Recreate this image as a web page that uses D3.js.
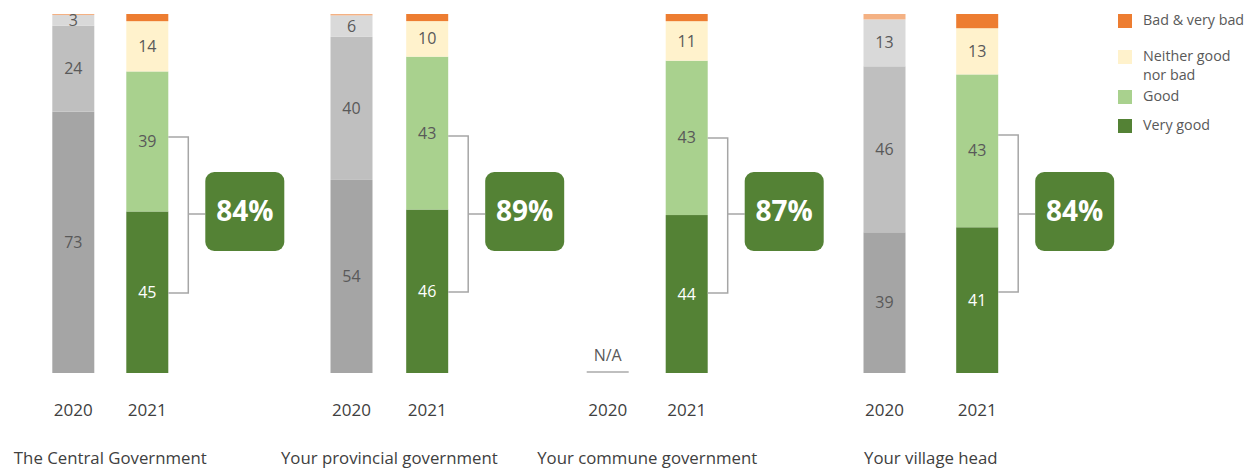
<!DOCTYPE html>
<html><head><meta charset="utf-8">
<script src="https://cdn.jsdelivr.net/npm/d3@7"></script>
<style>
body{margin:0;background:#fff}
svg{display:block;font-family:"Open Sans","Noto Sans",sans-serif}
</style>
</head><body><svg id="c" width="1254" height="470"></svg>
<script>
// ---------- DATA ----------
const categories = ["The Central Government","Your provincial government","Your commune government","Your village head"];
const years = ["2020","2021"];
const seriesKeys = ["Very good","Good","Neither good nor bad","Bad & very bad"];
const legendLabels = ["Bad & very bad","Neither good\nnor bad","Good","Very good"];
const veryGood2020 = [73, 54, null, 39];
const good2020     = [24, 40, null, 46];
const neither2020  = [3, 6, null, 13];
const bad2020      = [0.3, 0.4, null, 1.5];
const veryGood2021 = [45, 46, 44, 41];
const good2021     = [39, 43, 43, 43];
const neither2021  = [14, 10, 11, 13];
const bad2021      = [2, 2, 2, 4];
const totalGood2021 = [84, 89, 87, 84];
const naLabel = "N/A";

// ---------- STYLE / LAYOUT ----------
const colors = {
  "2021": {"Very good":"#548235","Good":"#a9d18e","Neither good nor bad":"#fff2cc","Bad & very bad":"#ed7d31"},
  "2020": {"Very good":"#a5a5a5","Good":"#bfbfbf","Neither good nor bad":"#d9d9d9","Bad & very bad":"#f4b183"}
};
const panelRanges = [[73.3,147.3],[351.5,427.2],[607.7,686.7],[884.5,977.2]];
const bracketSpans = [[137,293],[136,292],[138,293],[135,292]];
const boxTop = 172, boxSize = 79, connectorY = 214;
const barW = 42;
const textCol = "#595959";

const svg = d3.select("#c");
const y = d3.scaleLinear().domain([0,1]).range([373,14]);

const rows = [];
categories.forEach((c,i)=>{
  rows.push({ci:i, cat:c, year:"2020", "Very good":veryGood2020[i], "Good":good2020[i], "Neither good nor bad":neither2020[i], "Bad & very bad":bad2020[i]});
  rows.push({ci:i, cat:c, year:"2021", "Very good":veryGood2021[i], "Good":good2021[i], "Neither good nor bad":neither2021[i], "Bad & very bad":bad2021[i]});
});
const stacked = d3.stack().keys(seriesKeys).value((d,k)=>d[k]||0).offset(d3.stackOffsetExpand)(rows);
const xs = panelRanges.map(r=>d3.scalePoint().domain(years).range(r));

// bars
stacked.forEach(s=>{
  svg.append("g").selectAll("rect").data(s.filter(d=>d.data[s.key])).join("rect")
    .attr("x", d=>xs[d.data.ci](d.data.year)-barW/2)
    .attr("width", barW)
    .attr("y", d=>y(d[1]))
    .attr("height", d=>y(d[0])-y(d[1]))
    .attr("fill", d=>colors[d.data.year][s.key]);
});
// segment labels
stacked.forEach(s=>{
  if(s.key==="Bad & very bad") return;
  svg.append("g").selectAll("text").data(s.filter(d=>d.data[s.key])).join("text")
    .attr("x", d=>xs[d.data.ci](d.data.year))
    .attr("y", d=>y((d[0]+d[1])/2))
    .attr("dy","0.35em")
    .attr("text-anchor","middle")
    .attr("font-size",16)
    .attr("fill", d=>(d.data.year==="2021" && s.key==="Very good") ? "#fff" : textCol)
    .text(d=>d.data[s.key]);
});
// N/A markers
rows.forEach(r=>{
  if(r["Very good"]==null){
    const cx = xs[r.ci](r.year);
    svg.append("line").attr("x1",cx-barW/2).attr("x2",cx+barW/2).attr("y1",y(0)-1).attr("y2",y(0)-1)
      .attr("stroke","#bfbfbf").attr("stroke-width",2);
    svg.append("text").attr("x",cx).attr("y",y(0)-18).attr("dy","0.35em").attr("text-anchor","middle")
      .attr("font-size",16).attr("fill",textCol).text(naLabel);
  }
});
// year labels and category labels
categories.forEach((c,i)=>{
  years.forEach(yr=>{
    svg.append("text").attr("x",xs[i](yr)).attr("y",410).attr("dy","0.35em").attr("text-anchor","middle")
      .attr("font-size",17).attr("fill","#404040").text(yr);
  });
  const mid = (xs[i](years[0])+xs[i](years[1]))/2;
  svg.append("text").attr("x",mid).attr("y",458).attr("dy","0.35em").attr("text-anchor","middle")
    .attr("font-size",16.8).attr("fill","#404040").text(c);
});
// brackets and total boxes for 2021
rows.forEach(r=>{
  if(r.year!=="2021") return;
  const [y1,y2] = bracketSpans[r.ci];
  const xr = xs[r.ci](r.year)+barW/2;
  const xb = xr+20;
  const bx = xr+37;
  svg.append("path").attr("d",`M${xr},${y1}H${xb}V${y2}H${xr}M${xb},${connectorY}H${bx}`)
    .attr("fill","none").attr("stroke","#a6a6a6").attr("stroke-width",1.5);
  svg.append("rect").attr("x",bx).attr("y",boxTop).attr("width",boxSize).attr("height",boxSize)
    .attr("rx",9).attr("fill","#548235");
  svg.append("text").attr("x",bx+boxSize/2).attr("y",boxTop+boxSize/2).attr("dy","0.35em").attr("text-anchor","middle")
    .attr("font-size",28).attr("font-weight","bold").attr("fill","#fff").text(totalGood2021[r.ci]+"%");
});
// legend
const legendY = [14, 50, 90, 119];
const legendKeys = ["Bad & very bad","Neither good nor bad","Good","Very good"];
legendKeys.forEach((k,i)=>{
  svg.append("rect").attr("x",1118).attr("y",legendY[i]).attr("width",14).attr("height",14)
    .attr("fill",colors["2021"][k]);
  const lines = legendLabels[i].split("\n");
  const t = svg.append("text").attr("x",1143).attr("y",legendY[i]+6).attr("dy","0.35em")
    .attr("font-size",14.3).attr("fill",textCol);
  lines.forEach((ln,j)=>{
    t.append("tspan").attr("x",1143).attr("dy", j===0?"0.35em":"19px").text(ln);
  });
});
</script>
</body></html>
